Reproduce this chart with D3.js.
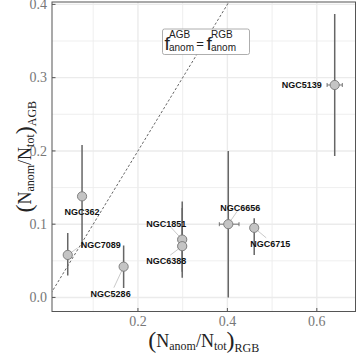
<!DOCTYPE html>
<html>
<head>
<meta charset="utf-8">
<script src="https://d3js.org/d3.v7.min.js"></script>
<style>
body { margin: 0; background: #fff; }
svg { display: block; }
.grid line { stroke: #ebebeb; }
.tick-lab { font-family: 'Liberation Serif', 'Times New Roman', serif; font-size: 14px; fill: #777; }
.ttl { font-family: 'Liberation Serif', 'Times New Roman', serif; fill: #222; }
.lab { font-family: 'Liberation Sans', Arial, sans-serif; font-weight: bold; font-size: 9px; fill: #111; }
.eq { font-family: 'Liberation Sans', Arial, sans-serif; fill: #222; }
</style>
</head>
<body>
<svg id="chart"></svg>
<script>

var width = 357,
    height = 353;

// cluster data
var clusters = ['NGC5139', 'NGC362', 'NGC7089', 'NGC5286', 'NGC1851', 'NGC6388', 'NGC6656', 'NGC6715'];
var fRGB    = [0.640, 0.075, 0.043, 0.168, 0.299, 0.299, 0.402, 0.460];
var fRGBlo  = [0.623, 0.075, 0.043, 0.168, 0.290, 0.290, 0.382, 0.455];
var fRGBhi  = [0.657, 0.075, 0.043, 0.168, 0.308, 0.308, 0.426, 0.465];
var fAGB    = [0.290, 0.138, 0.058, 0.042, 0.079, 0.070, 0.100, 0.095];
var fAGBlo  = [0.193, 0.068, 0.030, 0.013, 0.035, 0.027, 0.000, 0.058];
var fAGBhi  = [0.387, 0.208, 0.088, 0.071, 0.131, 0.122, 0.200, 0.108];

var xTicks = [0.2, 0.4, 0.6];
var yTicks = [0.0, 0.1, 0.2, 0.3, 0.4];
var xMinor = [0.1, 0.3, 0.5];
var yMinor = [0.05, 0.15, 0.25, 0.35];

var data = clusters.map(function(n, i) {
  return {name: n, x: fRGB[i], xlo: fRGBlo[i], xhi: fRGBhi[i],
          y: fAGB[i], ylo: fAGBlo[i], yhi: fAGBhi[i]};
});

// label offsets in px (ggrepel-like placement)
var labelPos = {
  NGC5139: {dx: -13, dy: 0, anchor: 'end', seg: false},
  NGC362:  {dx: 0, dy: 16, anchor: 'middle', seg: false},
  NGC7089: {dx: 13, dy: -10, anchor: 'start', seg: true},
  NGC5286: {dx: -13, dy: 27, anchor: 'middle', seg: true},
  NGC1851: {dx: -16, dy: -16, anchor: 'middle', seg: true},
  NGC6388: {dx: -16, dy: 15, anchor: 'middle', seg: true},
  NGC6656: {dx: 12, dy: -16, anchor: 'middle', seg: true},
  NGC6715: {dx: 16, dy: 16, anchor: 'middle', seg: true}
};

var panel = {left: 52, top: 2, right: 355.5, bottom: 311.5};

var x = d3.scaleLinear()
  .domain([0.0078, 0.6865])
  .range([panel.left, panel.right]);

var y = d3.scaleLinear()
  .domain([-0.0192, 0.4033])
  .range([panel.bottom, panel.top]);

var svg = d3.select('#chart')
  .attr('width', width)
  .attr('height', height);

svg.append('defs').append('clipPath')
  .attr('id', 'clip')
  .append('rect')
  .attr('x', panel.left).attr('y', panel.top)
  .attr('width', panel.right - panel.left)
  .attr('height', panel.bottom - panel.top);

// grid
var grid = svg.append('g').attr('class', 'grid');
grid.selectAll('.vmin').data(xMinor).enter().append('line')
  .attr('x1', x).attr('x2', x)
  .attr('y1', panel.top).attr('y2', panel.bottom)
  .attr('stroke-width', 0.8);
grid.selectAll('.hmin').data(yMinor).enter().append('line')
  .attr('y1', y).attr('y2', y)
  .attr('x1', panel.left).attr('x2', panel.right)
  .attr('stroke-width', 0.8);
grid.selectAll('.vmaj').data(xTicks).enter().append('line')
  .attr('x1', x).attr('x2', x)
  .attr('y1', panel.top).attr('y2', panel.bottom)
  .attr('stroke-width', 1.4);
grid.selectAll('.hmaj').data(yTicks).enter().append('line')
  .attr('y1', y).attr('y2', y)
  .attr('x1', panel.left).attr('x2', panel.right)
  .attr('stroke-width', 1.4);

var plot = svg.append('g').attr('clip-path', 'url(#clip)');

// 1:1 line
plot.append('line')
  .attr('x1', x(0)).attr('y1', y(0))
  .attr('x2', x(0.45)).attr('y2', y(0.45))
  .attr('stroke', '#555')
  .attr('stroke-width', 0.9)
  .attr('stroke-dasharray', '2.5,2');

// label segments
plot.selectAll('.seg').data(data.filter(function(d) { return labelPos[d.name].seg; }))
  .enter().append('line')
  .attr('x1', function(d) { return x(d.x); })
  .attr('y1', function(d) { return y(d.y); })
  .attr('x2', function(d) { return x(d.x) + labelPos[d.name].dx * 0.75; })
  .attr('y2', function(d) { var p = labelPos[d.name]; return y(d.y) + p.dy - (p.dy > 0 ? 6 : -3); })
  .attr('stroke', '#bbb')
  .attr('stroke-width', 0.8);

// vertical error bars
plot.selectAll('.ey').data(data).enter().append('line')
  .attr('x1', function(d) { return x(d.x); })
  .attr('x2', function(d) { return x(d.x); })
  .attr('y1', function(d) { return y(d.ylo); })
  .attr('y2', function(d) { return y(d.yhi); })
  .attr('stroke', '#666')
  .attr('stroke-width', 1.5);

// horizontal error bars with caps
var hx = data.filter(function(d) { return d.xhi > d.xlo; });
plot.selectAll('.ex').data(hx).enter().append('path')
  .attr('d', function(d) {
    var cy = y(d.y), a = x(d.xlo), b = x(d.xhi);
    return 'M' + a + ',' + cy + 'H' + b +
      'M' + a + ',' + (cy - 2) + 'V' + (cy + 2) +
      'M' + b + ',' + (cy - 2) + 'V' + (cy + 2);
  })
  .attr('fill', 'none')
  .attr('stroke', '#666')
  .attr('stroke-width', 0.9);

// points
plot.selectAll('circle').data(data).enter().append('circle')
  .attr('cx', function(d) { return x(d.x); })
  .attr('cy', function(d) { return y(d.y); })
  .attr('r', 4.6)
  .attr('fill', '#c4c4c4')
  .attr('stroke', '#777')
  .attr('stroke-width', 0.9);

// labels
svg.selectAll('.lab').data(data).enter().append('text')
  .attr('class', 'lab')
  .attr('x', function(d) { return x(d.x) + labelPos[d.name].dx; })
  .attr('y', function(d) { return y(d.y) + labelPos[d.name].dy; })
  .attr('dy', '0.35em')
  .attr('text-anchor', function(d) { return labelPos[d.name].anchor; })
  .text(function(d) { return d.name; });

// equality annotation box
var eq = svg.append('g');
eq.append('rect')
  .attr('x', 162.5).attr('y', 29)
  .attr('width', 87).attr('height', 25.5)
  .attr('rx', 2)
  .attr('fill', '#fff')
  .attr('stroke', '#999')
  .attr('stroke-width', 0.8);
function fTerm(x0, sup) {
  eq.append('text').attr('class', 'eq').attr('x', x0).attr('y', 50)
    .style('font-size', '19px').text('f');
  eq.append('text').attr('class', 'eq').attr('x', x0 + 4.5).attr('y', 38)
    .style('font-size', '10px').text(sup);
  eq.append('text').attr('class', 'eq').attr('x', x0 + 4.5).attr('y', 50.5)
    .style('font-size', '10px').text('anom');
}
fTerm(164.5, 'AGB');
eq.append('text').attr('class', 'eq').attr('x', 200).attr('y', 48)
  .attr('text-anchor', 'middle').style('font-size', '13px').text('=');
fTerm(206.5, 'RGB');

// panel border
svg.append('rect')
  .attr('x', panel.left).attr('y', panel.top)
  .attr('width', panel.right - panel.left)
  .attr('height', panel.bottom - panel.top)
  .attr('fill', 'none')
  .attr('stroke', '#555')
  .attr('stroke-width', 1);

// inward ticks
svg.selectAll('.xt').data(xTicks).enter().append('line')
  .attr('x1', x).attr('x2', x)
  .attr('y1', panel.bottom).attr('y2', panel.bottom - 3.5)
  .attr('stroke', '#555');
svg.selectAll('.yt').data(yTicks).enter().append('line')
  .attr('y1', y).attr('y2', y)
  .attr('x1', panel.left).attr('x2', panel.left + 3.5)
  .attr('stroke', '#555');

// tick labels
svg.selectAll('.xl').data(xTicks).enter().append('text')
  .attr('class', 'tick-lab')
  .attr('x', x).attr('y', 325.5)
  .attr('text-anchor', 'middle')
  .text(d3.format('.1f'));
svg.selectAll('.yl').data(yTicks).enter().append('text')
  .attr('class', 'tick-lab')
  .attr('x', 47).attr('y', function(d) { return y(d) + 4.8; })
  .attr('text-anchor', 'end')
  .text(d3.format('.1f'));

// axis titles
function axisTitle(g, sub) {
  var t = g.append('text').attr('class', 'ttl').attr('text-anchor', 'middle');
  t.append('tspan').style('font-size', '24px').attr('dy', 1).text('(');
  t.append('tspan').style('font-size', '18px').attr('dy', -1).text('N');
  t.append('tspan').style('font-size', '12px').attr('dy', 3).text('anom');
  t.append('tspan').style('font-size', '18px').attr('dy', -3).text('/');
  t.append('tspan').style('font-size', '18px').text('N');
  t.append('tspan').style('font-size', '12px').attr('dy', 3).text('tot');
  t.append('tspan').style('font-size', '24px').attr('dy', -2).text(')');
  t.append('tspan').style('font-size', '12px').attr('dy', 4).text(sub);
  return t;
}
var xt = svg.append('g').attr('transform', 'translate(' + ((panel.left + panel.right) / 2) + ',347)');
axisTitle(xt, 'RGB');
var yt = svg.append('g').attr('transform', 'translate(30.5,' + ((panel.top + panel.bottom) / 2) + ') rotate(-90)');
axisTitle(yt, 'AGB');

</script>
</body>
</html>
